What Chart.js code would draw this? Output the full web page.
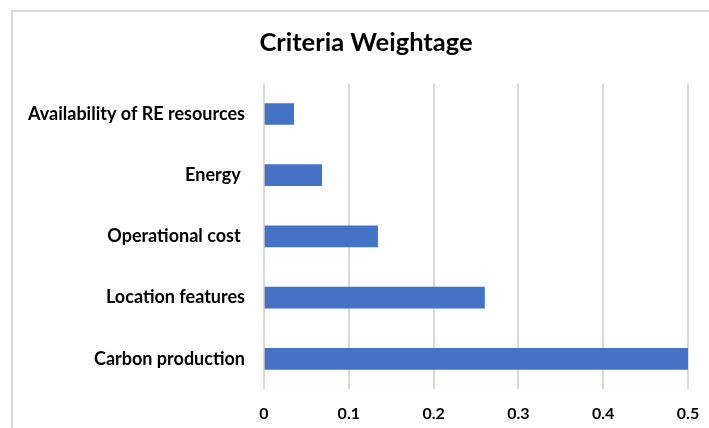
<!DOCTYPE html>
<html>
<head>
<meta charset="utf-8">
<script src="https://cdn.jsdelivr.net/npm/chart.js@4"></script>
<style>
html,body{margin:0;padding:0;background:#fff;overflow:hidden;}
canvas{display:block;}
</style>
</head>
<body>
<canvas id="c" width="709" height="428"></canvas>
<script>
const categories = ["Availability of RE resources", "Energy ", "Operational cost ", "Location features", "Carbon production"];
const weights = [0.035, 0.068, 0.134, 0.26, 0.5];
const tickLabels = ["0", "0.1", "0.2", "0.3", "0.4", "0.5"];
const chartTitle = "Criteria Weightage";

const framePlugin = {
  id: 'frame',
  beforeDraw(chart) {
    const ctx = chart.ctx;
    ctx.save();
    ctx.fillStyle = '#ffffff';
    ctx.fillRect(0, 0, chart.width, chart.height);
    ctx.strokeStyle = '#d9d9d9';
    ctx.lineWidth = 2;
    ctx.beginPath();
    ctx.moveTo(11, 11);
    ctx.lineTo(chart.width, 11);
    ctx.moveTo(12, 10);
    ctx.lineTo(12, chart.height);
    ctx.stroke();
    ctx.restore();
  },
  afterDraw(chart) {
    // Title centred on the full (cropped) chart frame, which spans x = 11 .. 721
    const ctx = chart.ctx;
    ctx.save();
    ctx.fillStyle = '#000000';
    ctx.font = 'bold 25.5px Lato';
    ctx.textAlign = 'center';
    ctx.textBaseline = 'middle';
    ctx.fillText(chartTitle, 366, 42.8);
    ctx.restore();
  }
};

new Chart(document.getElementById('c'), {
  type: 'bar',
  data: {
    labels: categories,
    datasets: [{
      data: weights,
      backgroundColor: '#4472C4',
      borderWidth: 0,
      barThickness: 21
    }]
  },
  options: {
    indexAxis: 'y',
    responsive: false,
    animation: false,
    layout: { padding: { left: 23, right: 21, top: 83.4, bottom: 0 } },
    plugins: {
      legend: { display: false },
      tooltip: { enabled: false },
      title: { display: false }
    },
    scales: {
      x: {
        min: 0,
        max: 0.5,
        afterFit(scale) { scale.height = 38.6; scale.paddingRight = 0; scale.paddingLeft = 0; },
        grid: { display: true, color: '#d9d9d9', lineWidth: 2, drawTicks: false },
        border: { display: false },
        ticks: {
          stepSize: 0.1,
          padding: 14.5,
          color: '#000000',
          font: { family: 'Lato', size: 16, weight: 'bold' },
          callback: (v, i) => tickLabels[i]
        }
      },
      y: {
        afterFit(scale) { scale.width = 241; },
        grid: { display: false, drawTicks: false },
        border: { display: false },
        ticks: {
          padding: 19,
          color: '#000000',
          font: { family: 'Lato', size: 18, weight: 'bold' }
        }
      }
    }
  },
  plugins: [framePlugin]
});
</script>
</body>
</html>
